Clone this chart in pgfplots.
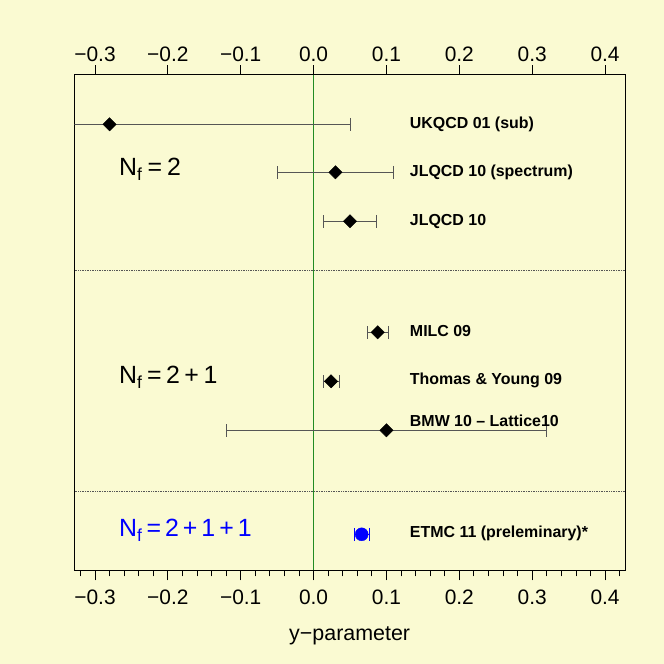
\documentclass[border=0pt]{standalone}
\usepackage{fontspec}
\setmainfont{Liberation Sans}
\usepackage{pgfplots}
\pgfplotsset{compat=1.18}
\definecolor{bg}{HTML}{FAFAD2}
\definecolor{errgray}{HTML}{555555}
\definecolor{zerogreen}{HTML}{228B22}

\pgfplotsset{
  frame/.style={
    at={(74.3bp,93.7bp)}, anchor=south west,
    scale only axis, width=550.7bp, height=496bp,
    xmin=-0.3284, xmax=0.4274, ymin=0, ymax=496,
    xtick={-0.3,-0.2,-0.1,0,0.1,0.2,0.3,0.4},
    xticklabels={−0.3,−0.2,−0.1,0.0,0.1,0.2,0.3,0.4},
    ytick=\empty,
    tick align=outside,
    tick style={black, line width=0.8bp},
    axis line style={line width=0.9bp},
    ticklabel style={font=\fontsize{21}{21}\selectfont},
  },
  errpt/.style={
    only marks, mark=square*, mark size=4.7bp,
    mark options={rotate=45, draw=black, fill=black},
    error bars/.cd, x dir=both, x explicit,
    error bar style={errgray, line width=0.9bp},
    error mark options={errgray, line width=0.9bp, mark size=6.5bp, rotate=90},
  },
}

\begin{document}
\begin{tikzpicture}
\fill[bg] (0,0) rectangle (664bp,664bp);
\path[use as bounding box] (0,0) rectangle (664bp,664bp);

\begin{axis}[frame,
  xtick pos=left,
  minor xtick={-0.32,-0.30,...,0.42},
  major tick length=10bp, minor tick length=6bp,
  xticklabel style={yshift=-6bp},
  xlabel={y−parameter},
  xlabel style={font=\fontsize{21.5}{21.5}\selectfont,
    at={(axis description cs:0.5,0)}, anchor=base, yshift=-69.7bp},
]
% reference lines
\addplot[zerogreen, line width=0.9bp] coordinates {(0,0) (0,496)};
\addplot[errgray, densely dotted, line width=0.7bp] coordinates {(-0.5,300) (0.5,300)};
\addplot[errgray, densely dotted, line width=0.7bp] coordinates {(-0.5,79) (0.5,79)};

% Nf = 2 and Nf = 2+1 results
\addplot[errpt] coordinates {
  (-0.28,446) +- (0.33,0)
  (0.03,398) +- (0.08,0)
  (0.05,349) +- (0.036,0)
  (0.088,238) +- (0.0145,0)
  (0.024,189) +- (0.011,0)
  (0.10,140) +- (0.22,0)
};
% Nf = 2+1+1
\addplot[only marks, mark=*, mark size=6.5bp, mark options={draw=blue, fill=blue},
  error bars/.cd, x dir=both, x explicit,
  error bar style={blue, line width=0.9bp},
  error mark options={blue, line width=0.9bp, mark size=6.5bp, rotate=90}]
  coordinates {(0.066,36) +- (0.0105,0)};

\begin{scope}[every node/.style={anchor=west, inner sep=0pt, font=\bfseries\fontsize{16}{16}\selectfont}]
\node at (axis cs:0.132,446) {UKQCD 01 (sub)};
\node at (axis cs:0.132,398) {JLQCD 10 (spectrum)};
\node at (axis cs:0.132,349) {JLQCD 10};
\node at (axis cs:0.132,239) {MILC 09};
\node at (axis cs:0.132,190) {Thomas \& Young 09};
\node at (axis cs:0.132,149) {BMW 10 – Lattice10};
\node at (axis cs:0.132,37) {ETMC 11 (preleminary)*};
\end{scope}

\begin{scope}[every node/.style={anchor=base west, inner sep=0pt, font=\fontsize{25}{25}\selectfont}]
\node at (axis cs:-0.267,394.3) {N\textsubscript{f}\hspace{5bp}=\hspace{5bp}2};
\node at (axis cs:-0.267,186.3) {N\textsubscript{f}\hspace{4.5bp}=\hspace{4.5bp}2\hspace{4.5bp}+\hspace{4.5bp}1};
\node[blue] at (axis cs:-0.267,33.3) {N\textsubscript{f}\hspace{4bp}=\hspace{4bp}2\hspace{4bp}+\hspace{4bp}1\hspace{4bp}+\hspace{4bp}1};
\end{scope}
\end{axis}

\begin{axis}[frame,
  axis x line*=top, axis y line=none,
  major tick length=9bp,
]
\end{axis}
\end{tikzpicture}
\end{document}
